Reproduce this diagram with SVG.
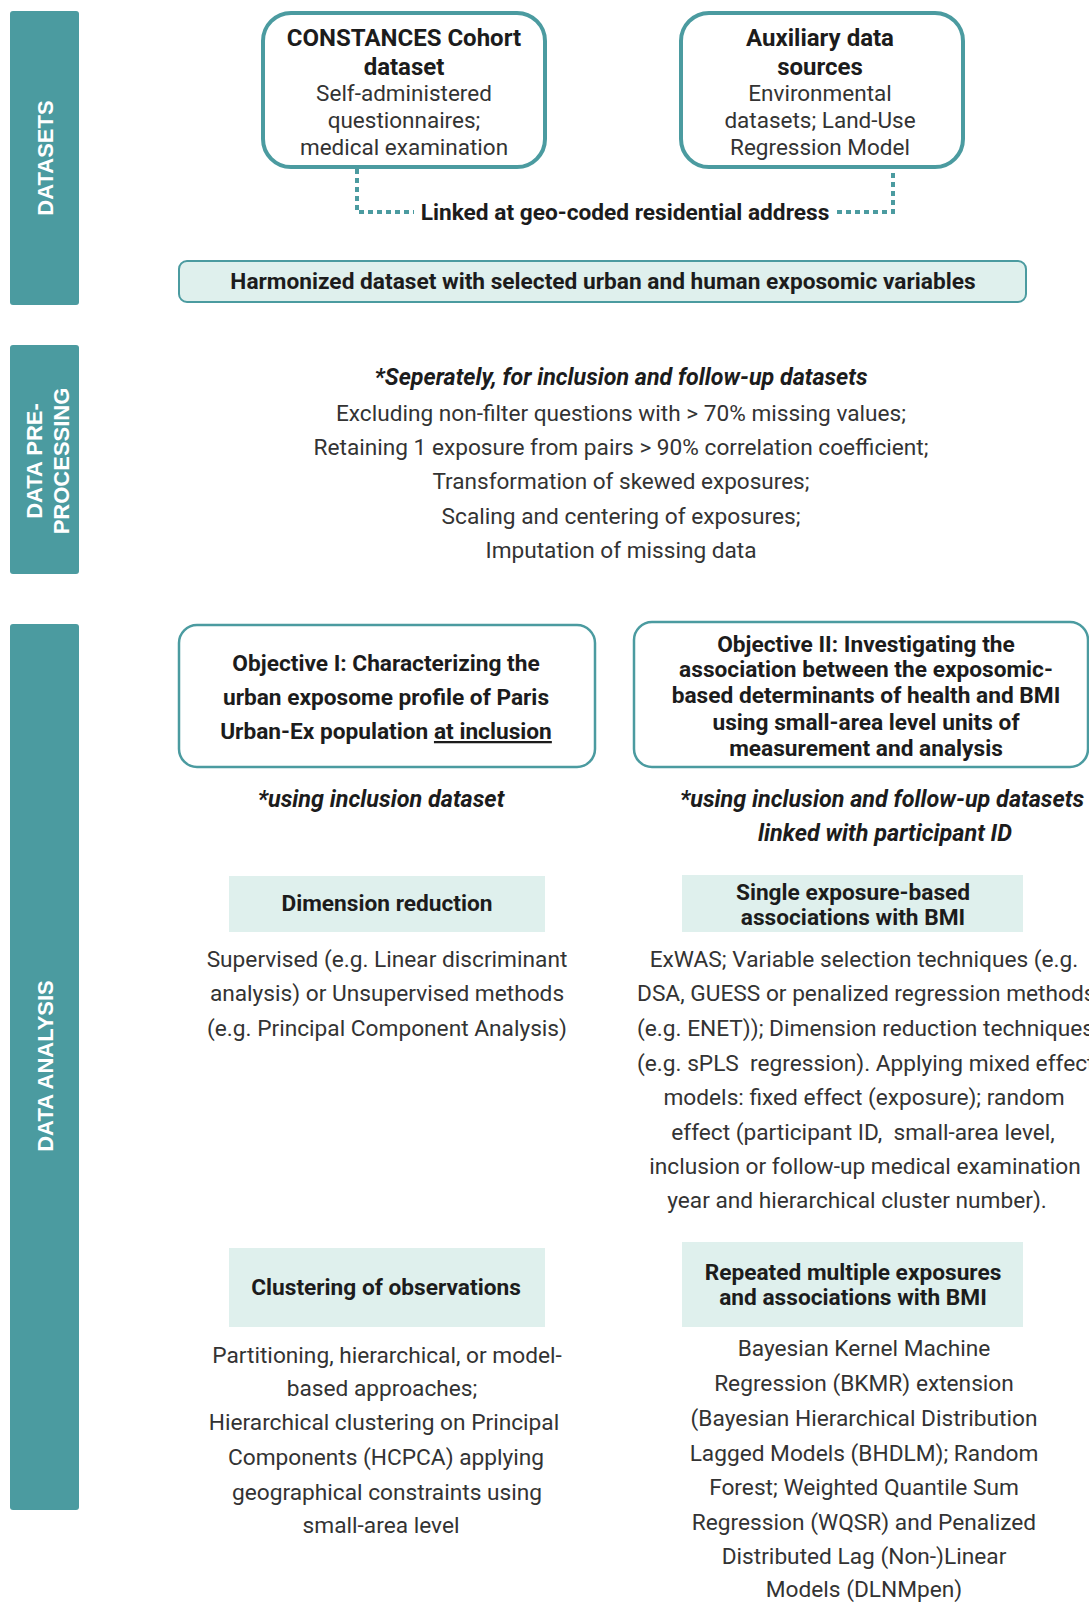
<svg xmlns="http://www.w3.org/2000/svg" width="1089" height="1602" viewBox="0 0 1089 1602">
<style>
.bar{fill:#4b9ba0}
.bartxt{font-family:"Liberation Sans",Arial,sans-serif;font-weight:bold;font-size:22px;fill:#ffffff;text-anchor:middle}
.dsbox{fill:#ffffff;stroke:#4b9ba0;stroke-width:4}
.objbox{fill:#ffffff;stroke:#4b9ba0;stroke-width:2.5}
.mint{fill:#dff0ed}
.hbox{fill:#dff0ed;stroke:#4b9ba0;stroke-width:2}
.b{font-family:Roboto,"Liberation Sans",sans-serif;font-weight:bold;font-size:22.7px;fill:#1c1c1c;text-anchor:middle}
.bd{font-family:Roboto,"Liberation Sans",sans-serif;font-weight:bold;font-size:24px;fill:#1c1c1c;text-anchor:middle}
.r{font-family:Roboto,"Liberation Sans",sans-serif;font-size:22.7px;fill:#333333;text-anchor:middle}
.rd{font-family:Roboto,"Liberation Sans",sans-serif;font-size:22.5px;fill:#333333;text-anchor:middle}
.rs{font-family:Roboto,"Liberation Sans",sans-serif;font-size:22.7px;fill:#333333;text-anchor:start}
.bi{font-family:Roboto,"Liberation Sans",sans-serif;font-weight:bold;font-style:italic;font-size:23.4px;fill:#1c1c1c;text-anchor:middle}
.c{font-family:Roboto,"Liberation Sans",sans-serif;font-size:22.5px;fill:#333333;text-anchor:middle}
.dot{fill:none;stroke:#4b9ba0;stroke-width:4;stroke-dasharray:5 4}
</style>

<g id="bar-datasets">
<rect class="bar" x="10" y="11" width="69" height="294" rx="3"/>
<text class="bartxt" transform="translate(53,158) rotate(-90)">DATASETS</text>
</g>
<g id="bar-preprocessing">
<rect class="bar" x="10" y="345" width="69" height="229" rx="3"/>
<text class="bartxt" transform="translate(42,461) rotate(-90)">DATA PRE-</text>
<text class="bartxt" transform="translate(69,461) rotate(-90)">PROCESSING</text>
</g>
<g id="bar-analysis">
<rect class="bar" x="10" y="624" width="69" height="886" rx="3"/>
<text class="bartxt" transform="translate(53,1066) rotate(-90)">DATA ANALYSIS</text>
</g>

<g id="connectors">
<path class="dot" d="M357,169 V212 H414"/>
<path class="dot" d="M837,212 H893 V169"/>
</g>

<g id="constances">
<rect class="dsbox" x="263" y="13" width="282" height="154" rx="28"/>
<text class="bd" x="404" y="46">CONSTANCES Cohort</text>
<text class="bd" x="404" y="75">dataset</text>
<text class="rd" x="404" y="101">Self-administered</text>
<text class="rd" x="404" y="128">questionnaires;</text>
<text class="rd" x="404" y="155">medical examination</text>
</g>
<g id="auxiliary">
<rect class="dsbox" x="681" y="13" width="282" height="154" rx="28"/>
<text class="bd" x="820" y="46">Auxiliary data</text>
<text class="bd" x="820" y="75">sources</text>
<text class="rd" x="820" y="101">Environmental</text>
<text class="rd" x="820" y="128">datasets; Land-Use</text>
<text class="rd" x="820" y="155">Regression Model</text>
</g>
<g id="link-label">
<text class="b" x="625" y="220">Linked at geo-coded residential address</text>
</g>
<g id="harmonized">
<rect class="hbox" x="179" y="261" width="847" height="41" rx="8"/>
<text class="b" x="603" y="289">Harmonized dataset with selected urban and human exposomic variables</text>
</g>

<g id="preprocessing-steps">
<text class="bi" x="621" y="385" textLength="493" lengthAdjust="spacingAndGlyphs">*Seperately, for inclusion and follow-up datasets</text>
<text class="c" x="621" y="421" textLength="570" lengthAdjust="spacingAndGlyphs">Excluding non-filter questions with &gt; 70% missing values;</text>
<text class="c" x="621" y="455" textLength="615" lengthAdjust="spacingAndGlyphs">Retaining 1 exposure from pairs &gt; 90% correlation coefficient;</text>
<text class="c" x="621" y="489" textLength="377" lengthAdjust="spacingAndGlyphs">Transformation of skewed exposures;</text>
<text class="c" x="621" y="524" textLength="359" lengthAdjust="spacingAndGlyphs">Scaling and centering of exposures;</text>
<text class="c" x="621" y="558" textLength="271" lengthAdjust="spacingAndGlyphs">Imputation of missing data</text>
</g>

<g id="objective-1">
<rect class="objbox" x="179" y="625" width="416" height="142" rx="18"/>
<text class="b" x="386" y="671">Objective I: Characterizing the</text>
<text class="b" x="386" y="705">urban exposome profile of Paris</text>
<text class="b" x="386" y="739">Urban-Ex population <tspan text-decoration="underline">at inclusion</tspan></text>
</g>
<g id="objective-1-note">
<text class="bi" x="381" y="807">*using inclusion dataset</text>
</g>
<g id="objective-2">
<rect class="objbox" x="634" y="622" width="454" height="145" rx="18"/>
<text class="b" x="866" y="652">Objective II: Investigating the</text>
<text class="b" x="866" y="677">association between the exposomic-</text>
<text class="b" x="866" y="703">based determinants of health and BMI</text>
<text class="b" x="866" y="730">using small-area level units of</text>
<text class="b" x="866" y="756">measurement and analysis</text>
</g>
<g id="objective-2-note">
<text class="bi" x="882" y="807">*using inclusion and follow-up datasets</text>
<text class="bi" x="885" y="841">linked with participant ID</text>
</g>

<g id="dimension-reduction">
<rect class="mint" x="229" y="876" width="316" height="56"/>
<text class="b" x="387" y="911">Dimension reduction</text>
<text class="r" x="387" y="967">Supervised (e.g. Linear discriminant</text>
<text class="r" x="387" y="1001">analysis) or Unsupervised methods</text>
<text class="r" x="387" y="1036">(e.g. Principal Component Analysis)</text>
</g>

<g id="single-exposure">
<rect class="mint" x="682" y="875" width="341" height="57"/>
<text class="b" x="853" y="900">Single exposure-based</text>
<text class="b" x="853" y="925">associations with BMI</text>
<text class="r" x="864" y="967">ExWAS; Variable selection techniques (e.g.</text>
<text class="rs" x="637" y="1001">DSA, GUESS or penalized regression methods</text>
<text class="rs" x="637" y="1036">(e.g. ENET)); Dimension reduction techniques</text>
<text class="rs" x="637" y="1071">(e.g. sPLS&#160; regression). Applying mixed effect</text>
<text class="r" x="864" y="1105">models: fixed effect (exposure); random</text>
<text class="r" x="863" y="1140">effect (participant ID,&#160; small-area level,</text>
<text class="r" x="865" y="1174">inclusion or follow-up medical examination</text>
<text class="r" x="857" y="1208">year and hierarchical cluster number).</text>
</g>

<g id="clustering">
<rect class="mint" x="229" y="1248" width="316" height="79"/>
<text class="b" x="386" y="1295">Clustering of observations</text>
<text class="r" x="387" y="1363">Partitioning, hierarchical, or model-</text>
<text class="r" x="382" y="1396">based approaches;</text>
<text class="r" x="384" y="1430">Hierarchical clustering on Principal</text>
<text class="r" x="386" y="1465">Components (HCPCA) applying</text>
<text class="r" x="387" y="1500">geographical constraints using</text>
<text class="r" x="381" y="1533">small-area level</text>
</g>

<g id="repeated-exposures">
<rect class="mint" x="682" y="1242" width="341" height="85"/>
<text class="b" x="853" y="1280">Repeated multiple exposures</text>
<text class="b" x="853" y="1305">and associations with BMI</text>
<text class="r" x="864" y="1356">Bayesian Kernel Machine</text>
<text class="r" x="864" y="1391">Regression (BKMR) extension</text>
<text class="r" x="864" y="1426">(Bayesian Hierarchical Distribution</text>
<text class="r" x="864" y="1461">Lagged Models (BHDLM); Random</text>
<text class="r" x="864" y="1495">Forest; Weighted Quantile Sum</text>
<text class="r" x="864" y="1530">Regression (WQSR) and Penalized</text>
<text class="r" x="864" y="1564">Distributed Lag (Non-)Linear</text>
<text class="r" x="864" y="1597">Models (DLNMpen)</text>
</g>
</svg>
